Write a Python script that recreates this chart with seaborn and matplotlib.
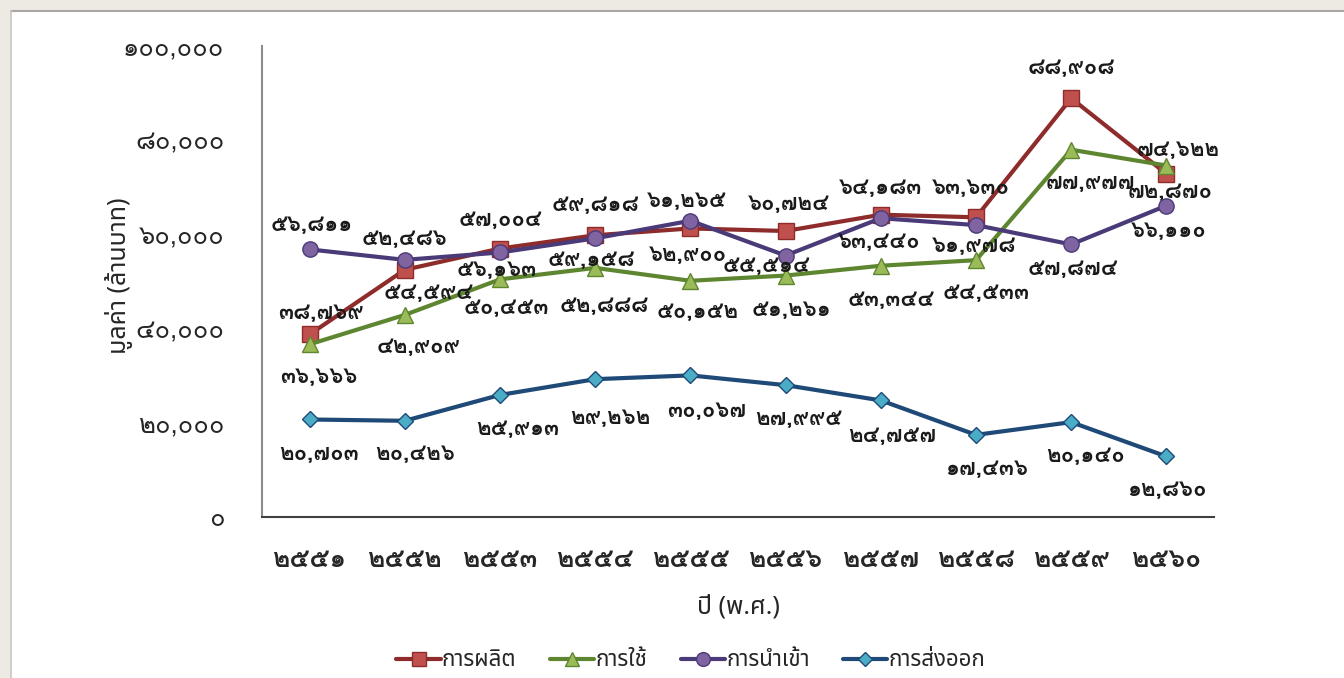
import matplotlib
matplotlib.use('Agg')
import matplotlib.pyplot as plt
from matplotlib.patches import Rectangle
from matplotlib.lines import Line2D
import seaborn as sns
import numpy as np
import pandas as pd

# ข้อมูล (ล้านบาท)
years = ['๒๕๕๑', '๒๕๕๒', '๒๕๕๓', '๒๕๕๔', '๒๕๕๕', '๒๕๕๖', '๒๕๕๗', '๒๕๕๘', '๒๕๕๙', '๒๕๖๐']
production = [38769, 52486, 57004, 59818, 61265, 60724, 64183, 63630, 88908, 72870]
consumption = [36666, 42909, 50453, 52888, 50152, 51261, 53344, 54533, 77977, 74622]
imports = [56811, 54594, 56163, 59158, 62900, 55514, 63440, 61978, 57874, 66110]
exports = [20703, 20426, 25913, 29262, 30067, 27995, 24757, 17436, 20140, 12860]
series_names = ['การผลิต', 'การใช้', 'การนำเข้า', 'การส่งออก']
y_ticks = [0, 20000, 40000, 60000, 80000, 100000]

# ตำแหน่งป้ายตัวเลข (pixel offset จากจุด)
off_prod = [(11, 21), (0, 31), (0, 29), (0, 30), (-4, 28), (3, 27), (0, 27), (-5, 29), (0, 30), (4, -18)]
off_cons = [(9, -33), (14, -32), (6, -29), (9, -38), (7, -31), (6, -34), (10, -34), (10, -33), (19, -33), (12, 16)]
off_imp = [(2, 24), (24, -33), (-3, -17), (-4, -22), (-2, -34), (-19, -10), (-2, -24), (-2, -21), (2, -25), (2, -25)]
off_exp = [(9, -34), (10, -33), (18, -34), (15, -39), (16, -36), (13, -34), (11, -36), (11, -34), (14, -34), (0, -33)]

thai_digits = str.maketrans('0123456789', '๐๑๒๓๔๕๖๗๘๙')


def thai_num(v):
    return f'{v:,}'.translate(thai_digits)


sns.set_theme(style='white')
plt.rcParams['font.family'] = ['Loma', 'DejaVu Sans']
plt.rcParams['axes.unicode_minus'] = False
thai_sans = ['Noto Sans Thai', 'DejaVu Sans']

fig = plt.figure(figsize=(13.44, 6.78), dpi=100, facecolor='#EDE9E3')
# กรอบพื้นขาว
fig.add_artist(Rectangle((11 / 1344, 0), 1333 / 1344, 667 / 678, transform=fig.transFigure,
                         facecolor='white', edgecolor='none', zorder=0))
fig.add_artist(Line2D([11 / 1344, 1], [1 - 10.5 / 678, 1 - 10.5 / 678], transform=fig.transFigure,
                      color='#A9A7A4', linewidth=1.5, zorder=0))
fig.add_artist(Line2D([10.5 / 1344, 10.5 / 1344], [0, 1 - 10.5 / 678], transform=fig.transFigure,
                      color='#C9C6C2', linewidth=1.2, zorder=0))

ax = fig.add_axes([262 / 1344, 1 - 517 / 678, (1214 - 262) / 1344, (517 - 46) / 678])
ax.patch.set_alpha(0)

x = np.arange(len(years))
styles = [
    (production, 's', '#8E2B2B', '#C0504D', '#8E2B2B', 11, off_prod),
    (consumption, '^', '#5E8630', '#9BBB59', '#5E8630', 11, off_cons),
    (imports, 'o', '#4A3A78', '#8064A2', '#4A3A78', 11, off_imp),
    (exports, 'D', '#1F4A78', '#4BACC6', '#1F4A78', 8, off_exp),
]
handles = []
for (vals, mk, lc, fc, ec, ms, offs), name in zip(styles, series_names):
    df = pd.DataFrame({'x': x, 'y': vals})
    sns.lineplot(data=df, x='x', y='y', ax=ax, color=lc, linewidth=3, marker=mk,
                 markersize=ms, markerfacecolor=fc, markeredgecolor=ec, markeredgewidth=1,
                 label=name, legend=False, zorder=3)
    handles.append(ax.lines[-1])
    for xi, v, (dx, dy) in zip(x, vals, offs):
        ax.annotate(thai_num(v), (xi, v), xytext=(dx, dy), textcoords='offset pixels',
                    ha='center', va='center', fontsize=16, fontweight='bold', color='#1A1A1A')

ax.set_xlim(-0.5, len(years) - 0.5)
ax.set_ylim(0, 100000)
ax.set_xticks(x)
ax.set_xticklabels(years, fontsize=19, fontweight='bold')
ax.set_yticks(y_ticks)
ax.set_yticklabels([thai_num(v) for v in y_ticks], fontsize=18.5)
ax.tick_params(axis='y', which='major', direction='out', length=7, width=1.2, color='#808080', pad=20)
ax.tick_params(axis='x', length=0, pad=22)
for s in ['top', 'right']:
    ax.spines[s].set_visible(False)
ax.spines['left'].set_color('#8C8C8C')
ax.spines['left'].set_linewidth(1.5)
ax.spines['bottom'].set_color('#404040')
ax.spines['bottom'].set_linewidth(1.5)

ax.set_xlabel('ปี (พ.ศ.)', fontsize=18, family=thai_sans, fontweight='medium')
ax.set_ylabel('มูลค่า (ล้านบาท)', fontsize=18, family=thai_sans, fontweight='medium')
ax.xaxis.set_label_coords(0.5, -0.164)
ax.yaxis.set_label_coords(-0.135, 0.512)

fig.legend(handles, series_names, loc='center', bbox_to_anchor=(0.514, 1 - 661 / 678), ncol=4,
           frameon=False, prop={'family': thai_sans, 'size': 16},
           handlelength=2.0, handletextpad=0.05, columnspacing=1.5, markerscale=0.9)

fig.savefig('out.png', dpi=100, facecolor=fig.get_facecolor())
